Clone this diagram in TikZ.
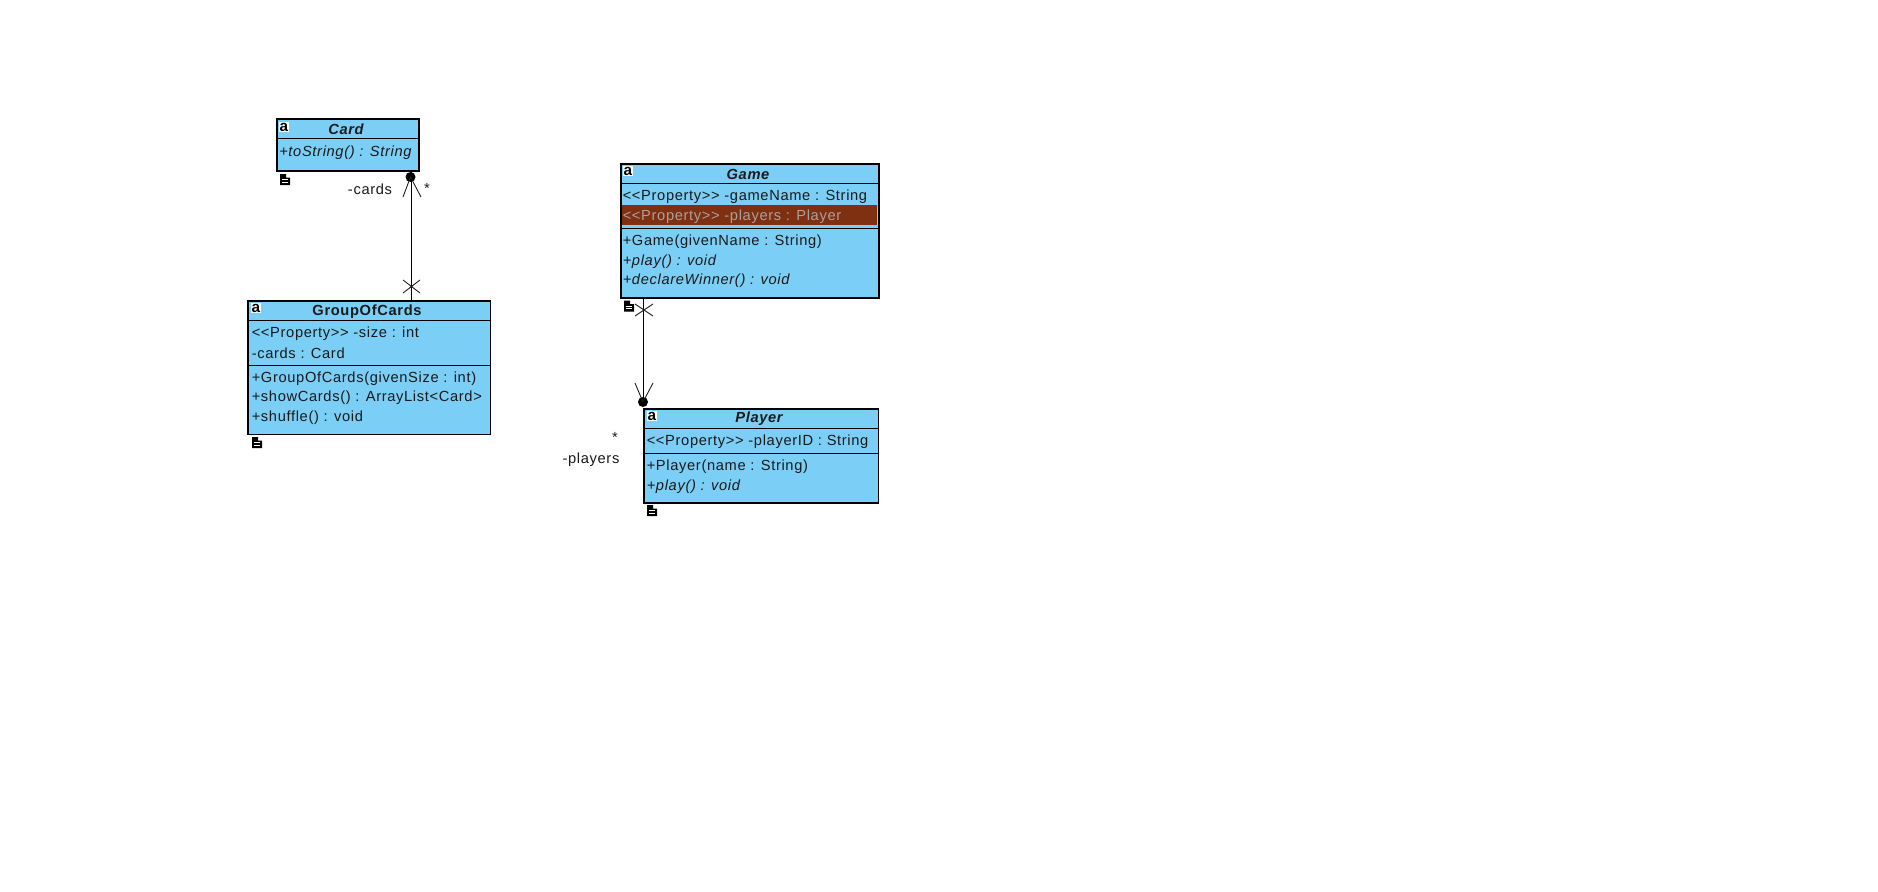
\documentclass[tikz,border=0pt]{standalone}
\usepackage{fontspec}
\setmainfont{Liberation Sans}
\newfontfamily\umlfont[LetterSpace=4.5]{Liberation Sans}
\newcommand{\stl}{<{}<}
\newcommand{\str}{>{}>}
\definecolor{classfill}{HTML}{7BCEF5}
\definecolor{hilite}{HTML}{7F3010}
\definecolor{hilitetext}{HTML}{A8A0A0}
\definecolor{ink}{HTML}{1A1A1A}
\tikzset{
  px/.style={x=0.75pt,y=-0.75pt},
  classbox/.style={draw=black,line width=1.1pt,fill=classfill,inner sep=0pt,outer sep=0pt,anchor=north west},
  divider/.style={draw=black,line width=0.75pt},
  member/.style={anchor=west,inner sep=0pt,font=\fontsize{11}{12}\umlfont,text=ink},
  imember/.style={member,font=\fontsize{11}{12}\umlfont\itshape},
  titlec/.style={anchor=center,inner sep=0pt,font=\fontsize{11}{12}\umlfont\bfseries,text=ink},
  ititle/.style={titlec,font=\fontsize{11}{12}\umlfont\bfseries\itshape},
  rolelabel/.style={anchor=center,inner sep=0pt,font=\fontsize{11}{12}\umlfont,text=ink},
  assoc/.style={draw=black,line width=0.65pt},
  tick/.style={draw=ink,line width=0.65pt},
  ball/.style={fill=black,draw=none,circle,minimum size=7.5pt,inner sep=0pt},
  aicon/.style={fill=white,anchor=center,inner sep=0.3pt,font=\fontsize{11.5}{12}\selectfont\bfseries,text=black},
  docicon/.pic={
    \fill[black] (0,0) -- (6,0) -- (6,3.5) -- (10,3.5) -- (10,11) -- (0,11) -- cycle;
    \draw[white,line width=0.6pt] (2,5.5) -- (8,5.5) (2,8) -- (8,8);
  }
}
\begin{document}
\begin{tikzpicture}[px]
\useasboundingbox (0,0) rectangle (1878,892);
\fill[white] (0,0) rectangle (1878,892);

% Card
\node[classbox,minimum width=106.5pt,minimum height=39pt] (card) at (277,119) {};
\draw[divider] (277,138) -- (419,138);
\node[aicon] (carda) at (284,127) {a};
\node[ititle] (cardt) at (346,129) {Card};
\node[imember] (card1) at (279,153) {+toString() : String};
\pic at (280,174) {docicon};

% GroupOfCards
\node[classbox,minimum width=182pt,minimum height=100pt] (goc) at (248,301) {};
\draw[divider] (248,320) -- (491,320);
\draw[divider] (248,365) -- (491,365);
\node[aicon] (goca) at (256,308) {a};
\node[titlec] (goct) at (367,311.5) {GroupOfCards};
\node[member] (goc1) at (251.5,334) {\stl Property\str{} -size : int};
\node[member] (goc2) at (251.5,353) {-cards : Card};
\node[member] (goc3) at (251.5,379) {+GroupOfCards(givenSize : int)};
\node[member] (goc4) at (251.5,398) {+showCards() : ArrayList<Card>};
\node[member] (goc5) at (251.5,418) {+shuffle() : void};
\pic at (252,437) {docicon};

% Game
\node[classbox,minimum width=193.5pt,minimum height=100.5pt] (game) at (621,164) {};
\draw[divider] (621,183) -- (879,183);
\fill[hilite] (622,205) rectangle (877,225);
\draw[divider] (621,228) -- (879,228);
\node[aicon] (gamea) at (628,171) {a};
\node[ititle] (gamet) at (748,174.5) {Game};
\node[member] (game1) at (622.5,197) {\stl Property\str{} -gameName : String};
\node[member,text=hilitetext] (game2) at (622.5,217) {\stl Property\str{} -players : Player};
\node[member] (game3) at (622.5,242) {+Game(givenName : String)};
\node[imember] (game4) at (622.5,262) {+play() : void};
\node[imember] (game5) at (622.5,281) {+declareWinner() : void};
\pic at (624,300.5) {docicon};

% Player
\node[classbox,minimum width=176pt,minimum height=70.5pt] (player) at (644,409) {};
\draw[divider] (644,428) -- (879,428);
\draw[divider] (644,453) -- (879,453);
\node[aicon] (playera) at (652,416) {a};
\node[ititle] (playert) at (759,419) {Player};
\node[member] (player1) at (646.5,442) {\stl Property\str{} -playerID : String};
\node[member] (player2) at (646.5,467) {+Player(name : String)};
\node[imember] (player3) at (646.5,487) {+play() : void};
\pic at (647,505) {docicon};

% Card -- GroupOfCards association
\coordinate (cardport) at (411,172);
\coordinate (gocport) at (411,301);
\node[ball] (cardball) at (410.5,177) {};
\draw[assoc] (gocport) -- (cardport);
\coordinate (cv1) at (403,197);
\coordinate (cv2) at (421,197);
\draw[tick] (cv1) -- (cardball.center) -- (cv2);
\coordinate (cx1) at (403,280);
\coordinate (cx2) at (420,293);
\coordinate (cx3) at (420,280);
\coordinate (cx4) at (403,293);
\draw[tick] (cx1) -- (cx2) (cx3) -- (cx4);
\node[rolelabel] (cardrole) at (370,189) {-cards};
\node[rolelabel] (cardmult) at (427,188) {*};

% Game -- Player association
\coordinate (gameport) at (643.5,298);
\coordinate (playerport) at (643.5,402);
\node[ball] (playerball) at (643,402) {};
\draw[assoc] (gameport) -- (playerport);
\coordinate (pv1) at (635,383);
\coordinate (pv2) at (653,383);
\draw[tick] (pv1) -- (playerball.center) -- (pv2);
\coordinate (px1) at (635,304);
\coordinate (px2) at (653,316);
\coordinate (px3) at (653,304);
\coordinate (px4) at (635,316);
\draw[tick] (px1) -- (px2) (px3) -- (px4);
\node[rolelabel] (playermult) at (615,437) {*};
\node[rolelabel] (playerrole) at (591,460) {-players};
\end{tikzpicture}
\end{document}
